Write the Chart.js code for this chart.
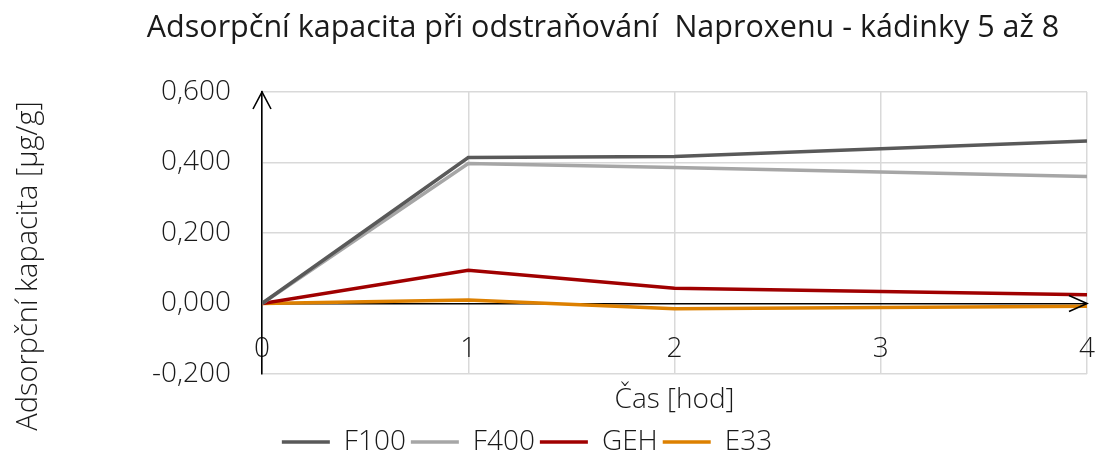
<!DOCTYPE html>
<html>
<head>
<meta charset="utf-8">
<script src="https://cdn.jsdelivr.net/npm/chart.js@4/dist/chart.umd.min.js"></script>
<style>
  html, body { margin: 0; padding: 0; background: #fff; }
  #wrap { width: 1096px; height: 454px; position: relative; }
</style>
</head>
<body>
<div id="wrap"><canvas id="chart"></canvas></div>
<script>
const hours = [0, 1, 2, 4];
const f100 = [0, 0.414, 0.417, 0.461];
const f400 = [0, 0.397, 0.386, 0.360];
const geh = [0, 0.094, 0.043, 0.025];
const e33 = [0, 0.010, -0.015, -0.008];

const seriesNames = ['F100', 'F400', 'GEH', 'E33'];
const seriesColors = ['#595959', '#a6a6a6', '#a00000', '#dd8000'];

const chartTitle = 'Adsorpční kapacita při odstraňování  Naproxenu - kádinky 5 až 8';
const yTitle = 'Adsorpční kapacita [µg/g]';
const xTitle = 'Čas [hod]';

const FONT = '"Open Sans", "DejaVu Sans", sans-serif';
const TEXT = '#1a1a1a';
const GRID = '#d9d9d9';

function points(values) {
    return hours.map((h, i) => ({ x: h, y: values[i] }));
}

// title, rotated y title and the two arrow heads
const decorations = {
    id: 'decorations',
    afterDraw(chart) {
        const { ctx, scales: { x, y } } = chart;
        ctx.save();
        ctx.fillStyle = TEXT;
        ctx.textAlign = 'center';
        ctx.textBaseline = 'middle';
        ctx.font = '400 30.5px ' + FONT;
        ctx.fillText(chartTitle, 603, 28);

        ctx.font = '300 29px ' + FONT;
        ctx.translate(29, 266);
        ctx.rotate(-Math.PI / 2);
        ctx.fillText(yTitle, 0, 0);
        ctx.restore();

        ctx.save();
        ctx.strokeStyle = '#000';
        ctx.lineWidth = 1.6;
        const x0 = x.left, yTop = y.top;
        ctx.beginPath();
        ctx.moveTo(x0 - 9, yTop + 17);
        ctx.lineTo(x0, yTop);
        ctx.lineTo(x0 + 9, yTop + 17);
        ctx.stroke();
        const xEnd = x.right, yZero = y.getPixelForValue(0);
        ctx.beginPath();
        ctx.moveTo(xEnd - 18, yZero - 8);
        ctx.lineTo(xEnd, yZero);
        ctx.lineTo(xEnd - 18, yZero + 8);
        ctx.stroke();
        ctx.restore();
    }
};

const ctx = document.getElementById('chart').getContext('2d');

new Chart(ctx, {
    type: 'line',
    data: {
        datasets: [f100, f400, geh, e33].map((vals, i) => ({
            label: seriesNames[i],
            data: points(vals),
            borderColor: seriesColors[i],
            backgroundColor: seriesColors[i],
            borderWidth: 3.5,
            pointRadius: 0,
            tension: 0
        }))
    },
    options: {
        responsive: true,
        maintainAspectRatio: false,
        animation: false,
        layout: { padding: { top: 92, right: 9, bottom: -12, left: -33 } },
        plugins: {
            tooltip: { enabled: false },
            legend: {
                position: 'bottom',
                labels: {
                    usePointStyle: true,
                    pointStyle: 'line',
                    pointStyleWidth: 48,
                    padding: 5,
                    color: TEXT,
                    font: { family: FONT, size: 28, weight: '300' }
                }
            }
        },
        scales: {
            x: {
                type: 'linear',
                position: 'bottom',
                min: 0,
                max: 4,
                afterFit: scale => {
                    scale.height = 49;
                    scale.paddingLeft = 0;
                    scale.paddingRight = 0;
                },
                border: { display: false },
                grid: { color: GRID, lineWidth: 1.5, drawTicks: false },
                ticks: {
                    stepSize: 1,
                    mirror: true,
                    padding: 8,
                    color: TEXT,
                    font: { family: FONT, size: 28, weight: '300' }
                },
                title: {
                    display: true,
                    text: xTitle,
                    color: TEXT,
                    padding: { top: 0, bottom: 6 },
                    font: { family: FONT, size: 28, weight: '300' }
                }
            },
            y: {
                min: -0.2,
                max: 0.6,
                afterFit: scale => { scale.width = 295; },
                border: { color: '#000', width: 1.6 },
                grid: {
                    color: c => c.tick && c.tick.value === 0 ? '#000' : GRID,
                    lineWidth: 1.5,
                    drawTicks: false
                },
                ticks: {
                    stepSize: 0.2,
                    padding: 31,
                    color: TEXT,
                    font: { family: FONT, size: 28, weight: '300' },
                    callback: v => v.toFixed(3).replace('.', ',')
                }
            }
        }
    },
    plugins: [decorations]
});
</script>
</body>
</html>
